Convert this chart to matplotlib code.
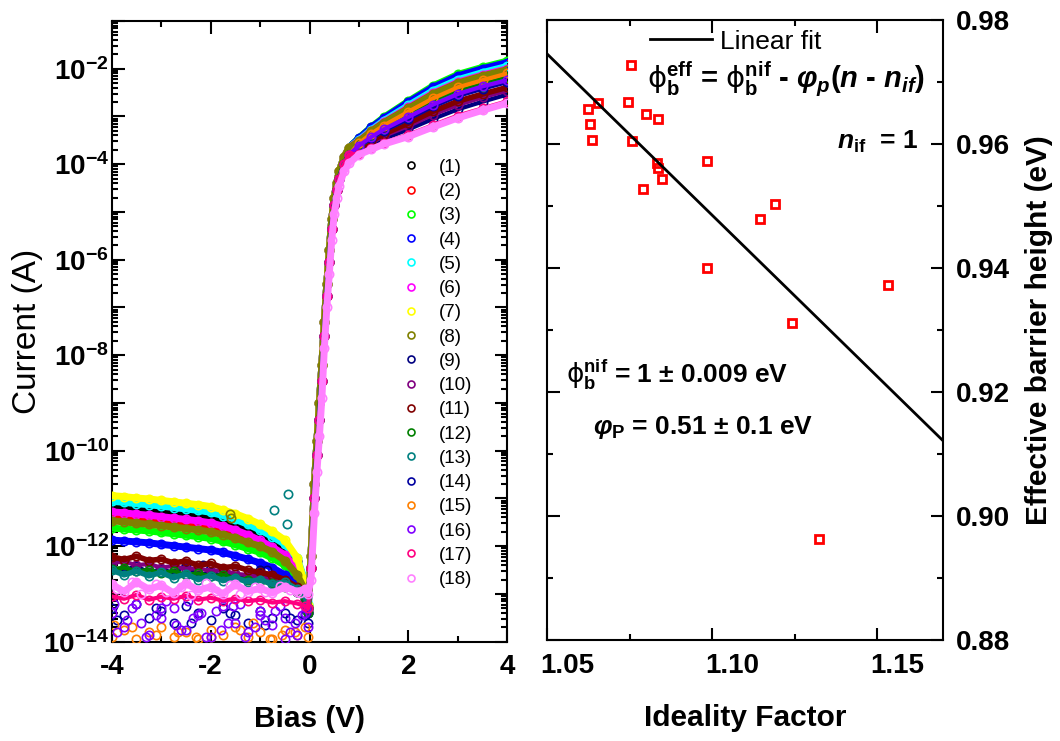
import numpy as np
import matplotlib
matplotlib.use('Agg')
import matplotlib.pyplot as plt
import matplotlib.transforms as mtransforms
from matplotlib.lines import Line2D
from matplotlib.ticker import LogLocator, MultipleLocator, FuncFormatter, NullFormatter

plt.rcParams['font.family'] = ['Liberation Sans', 'DejaVu Sans']
plt.rcParams['font.weight'] = 'bold'
plt.rcParams['axes.unicode_minus'] = False
plt.rcParams['mathtext.fontset'] = 'custom'
plt.rcParams['mathtext.default'] = 'regular'
plt.rcParams['mathtext.rm'] = 'DejaVu Sans:weight=normal'
plt.rcParams['mathtext.it'] = 'Liberation Sans:bold:italic'
plt.rcParams['mathtext.bf'] = 'Liberation Sans:bold'

# ---- I-V curves (left panel), bias in V, current stored as log10(I / A) ----
bias_rev = [-4.0, -3.75, -3.5, -3.25, -3.0, -2.75, -2.5, -2.25, -2.0, -1.75,
            -1.5, -1.25, -1.0, -0.75, -0.5, -0.25, -0.1, -0.03]
bias_rise = [0.03, 0.1, 0.15, 0.2, 0.25, 0.3, 0.35, 0.4, 0.45, 0.5, 0.55, 0.6, 0.7, 0.8]
bias_fwd = [1.0, 1.25, 1.5, 2.0, 2.5, 3.0, 3.5, 4.0]

# reverse bias part of each diode
rev_1 = [-11.18, -11.2, -11.23, -11.25, -11.28, -11.31, -11.34, -11.37, -11.41, -11.48,
         -11.56, -11.66, -11.78, -11.92, -12.06, -12.3, -12.72, -13.25]
rev_2 = [-11.36, -11.38, -11.41, -11.43, -11.46, -11.49, -11.52, -11.55, -11.59, -11.66,
         -11.74, -11.84, -11.95, -12.08, -12.24, -12.55, -12.9, -13.3]
rev_3 = [-11.62, -11.64, -11.66, -11.68, -11.71, -11.74, -11.77, -11.8, -11.84, -11.9,
         -11.97, -12.05, -12.13, -12.25, -12.4, -12.65, -12.95, -13.35]
rev_4 = [-11.87, -11.89, -11.91, -11.93, -11.96, -11.99, -12.02, -12.05, -12.08, -12.13,
         -12.2, -12.27, -12.35, -12.45, -12.6, -12.8, -13.05, -13.4]
rev_5 = [-11.06, -11.08, -11.11, -11.13, -11.16, -11.19, -11.22, -11.25, -11.29, -11.36,
         -11.44, -11.54, -11.66, -11.8, -11.96, -12.25, -12.7, -13.2]
rev_6 = [-11.28, -11.3, -11.33, -11.35, -11.38, -11.41, -11.44, -11.47, -11.51, -11.58,
         -11.66, -11.76, -11.88, -12.02, -12.18, -12.48, -12.85, -13.3]
rev_7 = [-10.94, -10.96, -10.99, -11.01, -11.04, -11.07, -11.1, -11.13, -11.17, -11.24,
         -11.32, -11.42, -11.54, -11.69, -11.87, -12.24, -12.77, -13.24]
rev_8 = [-11.47, -11.49, -11.52, -11.54, -11.57, -11.6, -11.63, -11.66, -11.7, -11.76,
         -11.83, -11.92, -12.0, -12.12, -12.3, -12.6, -12.9, -13.3]
rev_9 = [-12.45, -12.5, -12.42, -12.55, -12.48, -12.56, -12.4, -12.6, -12.55, -12.62,
         -12.58, -12.68, -12.5, -12.75, -12.8, -12.95, -13.1, -13.4]
rev_10 = [-12.35, -12.32, -12.4, -12.37, -12.45, -12.41, -12.48, -12.46, -12.52, -12.5,
          -12.58, -12.6, -12.65, -12.7, -12.8, -12.9, -13.05, -13.35]
rev_11 = [-12.22, -12.28, -12.21, -12.3, -12.27, -12.35, -12.31, -12.4, -12.36, -12.45,
          -12.42, -12.5, -12.55, -12.6, -12.7, -12.85, -13.0, -13.3]
rev_12 = [-12.48, -12.45, -12.52, -12.5, -12.56, -12.52, -12.6, -12.57, -12.63, -12.6,
          -12.67, -12.7, -12.72, -12.78, -12.85, -12.95, -13.1, -13.4]
rev_13 = [-12.5, -12.6, -12.52, -12.62, -12.55, -12.66, -12.58, -12.7, -12.62, -12.72,
          -12.66, -12.75, -12.7, -12.8, -12.75, -12.9, -13.0, -13.3]
rev_14 = [-13.3, -13.45, -13.2, -13.5, -13.35, -13.6, -13.25, -13.4, -13.55, -13.3,
          -13.45, -13.6, -13.35, -13.5, -13.4, -13.55, -13.45, -13.6]
rev_15 = [-13.9, -13.75, -13.95, -13.8, -13.7, -13.9, -13.8, -13.95, -13.75, -13.85,
          -13.7, -13.9, -13.8, -13.95, -13.75, -13.85, -13.7, -13.9]
rev_16 = [-13.4, -13.7, -13.2, -13.85, -13.5, -13.3, -13.75, -13.45, -13.9, -13.25,
          -13.6, -13.8, -13.35, -13.65, -13.5, -13.85, -13.4, -13.7]
rev_17 = [-13.05, -13.1, -13.02, -13.12, -13.06, -13.1, -13.04, -13.12, -13.08, -13.14,
          -13.1, -13.15, -13.12, -13.18, -13.15, -13.2, -13.25, -13.3]
rev_18 = [-12.8, -12.95, -12.75, -12.9, -12.82, -12.98, -12.78, -12.92, -12.85, -13.0,
          -12.8, -12.95, -12.88, -12.98, -12.85, -12.95, -12.9, -13.0]

# turn-on part, three groups of diodes
rise_a = [-12.2, -10.7, -9.8, -9.0, -8.2, -7.3, -6.5, -5.8, -5.15, -4.7, -4.4, -4.15, -3.85, -3.65]
rise_b = [-12.45, -11.0, -10.1, -9.35, -8.55, -7.6, -6.75, -6.05, -5.35, -4.85, -4.55, -4.3, -4.0, -3.8]
rise_c = [-12.7, -11.3, -10.44, -9.7, -8.9, -7.85, -7.0, -6.3, -5.58, -5.05, -4.7, -4.45, -4.15, -3.98]

# forward bias part of each diode
fwd_1 = [-3.47, -3.25, -3.06, -2.73, -2.42, -2.18, -2.03, -1.9]
fwd_2 = [-3.48, -3.26, -3.06, -2.74, -2.43, -2.19, -2.04, -1.91]
fwd_3 = [-3.45, -3.22, -3.02, -2.68, -2.36, -2.12, -1.97, -1.84]
fwd_4 = [-3.46, -3.23, -3.04, -2.7, -2.39, -2.15, -2.0, -1.87]
fwd_5 = [-3.49, -3.28, -3.09, -2.77, -2.46, -2.23, -2.08, -1.95]
fwd_6 = [-3.51, -3.3, -3.12, -2.81, -2.51, -2.28, -2.13, -2.0]
fwd_7 = [-3.59, -3.41, -3.24, -2.98, -2.7, -2.48, -2.33, -2.19]
fwd_8 = [-3.52, -3.31, -3.13, -2.83, -2.53, -2.3, -2.15, -2.02]
fwd_9 = [-3.73, -3.6, -3.47, -3.27, -3.05, -2.85, -2.69, -2.54]
fwd_10 = [-3.7, -3.55, -3.41, -3.2, -2.96, -2.76, -2.6, -2.46]
fwd_11 = [-3.67, -3.51, -3.37, -3.14, -2.89, -2.68, -2.53, -2.39]
fwd_12 = [-3.58, -3.4, -3.23, -2.97, -2.69, -2.47, -2.32, -2.18]
fwd_13 = [-3.61, -3.44, -3.28, -3.03, -2.76, -2.55, -2.39, -2.25]
fwd_14 = [-3.62, -3.45, -3.3, -3.05, -2.79, -2.57, -2.42, -2.28]
fwd_15 = [-3.56, -3.36, -3.19, -2.9, -2.62, -2.39, -2.24, -2.1]
fwd_16 = [-3.61, -3.43, -3.27, -3.01, -2.75, -2.53, -2.37, -2.24]
fwd_17 = [-3.78, -3.67, -3.55, -3.38, -3.18, -2.98, -2.83, -2.68]
fwd_18 = [-3.8, -3.69, -3.58, -3.42, -3.22, -3.03, -2.87, -2.72]

# stray and scattered points that sit off the bands (noise floor)
extra_bias = {
    8: [-1.6, -1.58],
    9: [-2.15, -0.86],
    13: [-0.72, -0.45, -0.44],
    14: [-3.9, -3.1, -2.4, -1.6, -0.9, -0.4],
    15: [-3.6, -3.1, -2.66, -2.0, -1.4, -0.8, -0.3, -3.95, -2.3, -1.15, -0.55],
    16: [-3.9, -3.6, -3.4, -3.1, -2.9, -2.6, -2.35, -2.1, -1.9, -1.65, -1.4, -1.1, -0.9,
         -0.6, -0.4, -0.15, -3.95, -3.7, -3.3, -3.0, -2.7, -2.45, -2.2, -1.8, -1.55, -1.3,
         -1.0, -0.7, -0.5, -0.3, -0.08],
    18: [-3.9, -3.6, -3.4, -3.1, -2.9, -2.6, -2.4, -2.1, -1.9, -1.6, -1.4, -1.1, -0.9,
         -0.6, -0.4, -0.2],
}
extra_log = {
    8: [-11.33, -11.4],
    9: [-12.39, -12.5],
    13: [-11.24, -11.53, -10.91],
    14: [-13.55, -13.3, -13.6, -13.4, -13.65, -13.5],
    15: [-13.7, -13.85, -13.8, -13.9, -13.75, -13.95, -13.8, -13.65, -13.9, -13.6, -13.85],
    16: [-13.8, -13.3, -13.6, -13.45, -13.15, -13.75, -13.5, -13.9, -13.35, -13.6, -13.2,
         -13.7, -13.55, -13.25, -13.8, -13.45, -13.2, -13.55, -13.9, -13.3, -13.65, -13.15,
         -13.4, -13.75, -13.25, -13.9, -13.45, -13.35, -13.95, -13.6, -13.3],
    18: [-12.9, -12.75, -13.0, -12.8, -12.95, -12.85, -13.02, -12.78, -12.93, -12.82,
         -13.0, -12.86, -12.96, -12.84, -12.92, -12.98],
}

labels = ['(%d)' % k for k in range(1, 19)]
colors = ['#000000', '#FF0000', '#00FF00', '#0000FF', '#00FFFF', '#FF00FF', '#FFFF00',
          '#808000', '#000080', '#800080', '#800000', '#008000', '#008080', '#0000A0',
          '#FF8000', '#8000FF', '#FF0080', '#FF80FF']
line_widths = [5, 5, 5, 5, 5, 5, 5, 5, 3, 3, 4, 3, 4, 0, 0, 0, 3, 5]

rev_all = [rev_1, rev_2, rev_3, rev_4, rev_5, rev_6, rev_7, rev_8, rev_9,
           rev_10, rev_11, rev_12, rev_13, rev_14, rev_15, rev_16, rev_17, rev_18]
fwd_all = [fwd_1, fwd_2, fwd_3, fwd_4, fwd_5, fwd_6, fwd_7, fwd_8, fwd_9,
           fwd_10, fwd_11, fwd_12, fwd_13, fwd_14, fwd_15, fwd_16, fwd_17, fwd_18]
rise_all = [rise_a] * 8 + [rise_b] * 9 + [rise_c]

# ---- barrier height vs ideality factor (right panel) ----
ideality = [1.0753, 1.0654, 1.0624, 1.0745, 1.0798, 1.0837, 1.0629, 1.0636, 1.0758, 1.0985,
            1.0831, 1.0834, 1.0847, 1.0790, 1.1146, 1.1191, 1.0985, 1.1532, 1.1241, 1.1324]
barrier = [0.9727, 0.9666, 0.9656, 0.9667, 0.9648, 0.9640, 0.9632, 0.9606, 0.9605, 0.9573,
           0.9570, 0.9561, 0.9543, 0.9527, 0.9479, 0.9504, 0.9400, 0.9372, 0.9312, 0.8963]
phi_nif = 1.0005
phi_p = 0.52
n_if = 1.0

fig = plt.figure(figsize=(10.6, 7.41), dpi=100)
ax1 = fig.add_axes([0.1054, 0.1340, 0.3732, 0.8377])
ax2 = fig.add_axes([0.5163, 0.1363, 0.3736, 0.8367])

# This draws the I-V curves
bias = bias_rev + bias_rise + bias_fwd
for i in range(18):
    cur = 10.0 ** np.array(rev_all[i] + rise_all[i] + fwd_all[i])
    if line_widths[i] > 0:
        ax1.plot(bias, cur, '-', color=colors[i], lw=line_widths[i], zorder=2 + i)
    else:
        # floor-noise diodes: only the rise and forward part is a continuous band
        ax1.plot(bias_rise + bias_fwd, cur[len(bias_rev):], '-', color=colors[i], lw=3, zorder=2 + i)
    ax1.plot(bias, cur, 'o', mfc='none', mec=colors[i], ms=6, mew=1.2, zorder=2 + i)
    if i + 1 in extra_bias:
        ax1.plot(extra_bias[i + 1], 10.0 ** np.array(extra_log[i + 1]), 'o', mfc='none',
                 mec=colors[i], ms=6, mew=1.2, zorder=2 + i)

ax1.set_yscale('log')
ax1.set_xlim(-4, 4)
ax1.set_ylim(1e-14, 1e-1)
ax1.xaxis.set_major_locator(MultipleLocator(2))
ax1.xaxis.set_minor_locator(MultipleLocator(1))
ax1.yaxis.set_major_locator(LogLocator(base=10, numticks=30))
ax1.yaxis.set_minor_locator(LogLocator(base=10, subs=np.arange(2, 10), numticks=30))
ax1.yaxis.set_minor_formatter(NullFormatter())


def even_decades(v, pos):
    e = int(round(np.log10(v)))
    if e % 2 == 0:
        return r'$10^{%d}$' % e
    return ''


ax1.yaxis.set_major_formatter(FuncFormatter(even_decades))
ax1.set_xlabel('Bias (V)', fontsize=21.5, fontweight='bold', labelpad=18)
ax1.set_ylabel('Current (A)', fontsize=24, fontweight='normal', labelpad=0)

handles = [Line2D([], [], ls='none', marker='o', mfc='none', mec=c, ms=5, mew=1.2) for c in colors]
ax1.legend(handles, labels, loc='upper left', bbox_to_anchor=(0.732, 0.778), frameon=False,
           prop={'size': 13.5, 'weight': 'normal'}, handlelength=1.0, handletextpad=1.0,
           labelspacing=0.38, borderpad=0, borderaxespad=0)

# This draws the barrier heights and the linear fit
ax2.plot(ideality, barrier, 's', mfc='none', mec='#FF0000', ms=6, mew=2.0, ls='none')
n_line = np.array([1.05, 1.17])
ax2.plot(n_line, phi_nif - phi_p * (n_line - n_if), '-', color='black', lw=2, label='Linear fit')
ax2.set_xlim(1.05, 1.17)
ax2.set_ylim(0.88, 0.98)
ax2.xaxis.set_major_locator(MultipleLocator(0.05))
ax2.xaxis.set_minor_locator(MultipleLocator(0.025))
ax2.yaxis.set_major_locator(MultipleLocator(0.02))
ax2.yaxis.set_minor_locator(MultipleLocator(0.01))
ax2.xaxis.set_major_formatter(FuncFormatter(lambda v, p: '%.2f' % v))
ax2.yaxis.set_major_formatter(FuncFormatter(lambda v, p: '%.2f' % v))
ax2.yaxis.set_label_position('right')
ax2.set_xlabel('Ideality Factor', fontsize=21.5, fontweight='bold', labelpad=18)
ax2.set_ylabel('Effective barrier height (eV)', fontsize=21.5, fontweight='bold', labelpad=11)
ax2.legend(loc='center left', bbox_to_anchor=(0.26, 0.965), frameon=False,
           prop={'size': 19, 'weight': 'normal'}, handlelength=2.35, handletextpad=0.3,
           borderpad=0, borderaxespad=0)

ax2.text(0.252, 0.890, r'$\mathrm{\phi}_b^{eff}$ = $\mathrm{\phi}_b^{nif}$ - $\mathit{\varphi_p}$($\mathit{n}$ - $\mathit{n_{if}}$)',
         transform=ax2.transAxes, fontsize=21, fontweight='bold', ha='left', va='baseline')
ax2.text(0.731, 0.793, r'$\mathit{n}_{if}$  = 1', transform=ax2.transAxes,
         fontsize=19, fontweight='bold', ha='left', va='baseline')
ax2.text(0.047, 0.414, r'$\mathrm{\phi}_b^{nif}$ = 1 ± 0.009 eV', transform=ax2.transAxes,
         fontsize=19, fontweight='bold', ha='left', va='baseline')
ax2.text(0.115, 0.332, r'$\mathit{\varphi}_P$ = 0.51 ± 0.1 eV', transform=ax2.transAxes,
         fontsize=19, fontweight='bold', ha='left', va='baseline')

for ax in (ax1, ax2):
    for s in ax.spines.values():
        s.set_linewidth(1.5)
    ax.tick_params(which='both', direction='in', top=True, bottom=True, left=True, right=True,
                   width=1.5, labelsize=20)
    ax.tick_params(which='major', length=9, pad=9)
    ax.tick_params(which='minor', length=4.5)

ax1.tick_params(axis='y', which='major', pad=2)
ax2.tick_params(axis='y', which='both', labelleft=False, labelright=True)

# Origin put the x labels of the right panel a bit to the right of their ticks
shift = mtransforms.ScaledTranslation(0.2, 0, fig.dpi_scale_trans)
for lab in ax2.get_xticklabels():
    lab.set_transform(lab.get_transform() + shift)

fig.savefig('out.png', dpi=100)
